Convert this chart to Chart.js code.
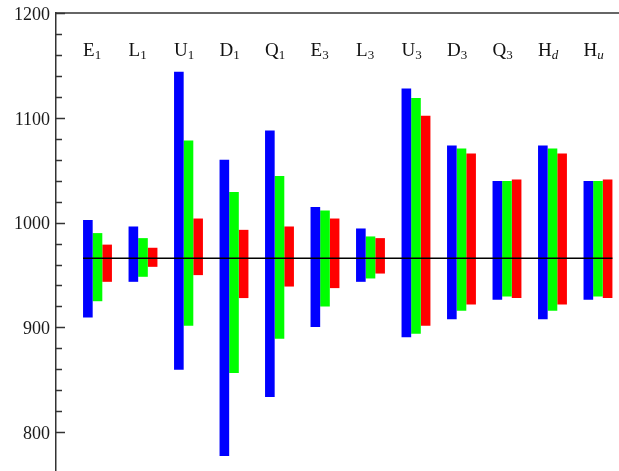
<!DOCTYPE html>
<html>
<head>
<meta charset="utf-8">
<script src="https://cdn.jsdelivr.net/npm/chart.js@4.4.1/dist/chart.umd.min.js"></script>
<style>
  html, body { margin:0; padding:0; background:#fff; }
  canvas { display:block; }
</style>
</head>
<body>
<canvas id="c" width="619" height="471"></canvas>
<script>
// data
const labelMain = ['E','L','U','D','Q','E','L','U','D','Q','H','H'];
const labelSub  = ['1','1','1','1','1','3','3','3','3','3','d','u'];
const positions = [1,2,3,4,5,6,7,8,9,10,11,12];

// [low, high] per category
const blueRange  = [[909.5,1002.4],[943.5,996.3],[859.5,1143.9],[777.2,1059.9],[833.5,1087.9],[900.3,1014.8],[943.5,994.4],[890.7,1128],[907.9,1073.6],[926.3,1039.6],[907.9,1073.6],[926.3,1039.6]];
const greenRange = [[925,990],[948.3,985.2],[901.5,1078.4],[856.4,1029.1],[889.1,1044.4],[920,1011.5],[946.7,986.8],[893.9,1118.8],[915.8,1070.7],[929.5,1039.6],[915.8,1070.7],[929.5,1039.6]];
const redRange   = [[943.5,979],[957.8,976],[949.9,1003.9],[928,993.1],[939,996.3],[937.5,1003.9],[951.4,985.2],[901.5,1101.9],[921.9,1065.9],[928,1041.1],[921.9,1065.9],[928,1041.1]];

const refValue = 966;
const yMajor = [800,900,1000,1100,1200];

function toPoints(arr){ return arr.map((r,i)=> ({x: positions[i], y: r})); }

const decor = {
  id:'decor',
  afterDraw(chart){
    const ctx = chart.ctx, a = chart.chartArea;
    const y = chart.scales.y;
    ctx.save();
    // top frame
    ctx.strokeStyle = '#333'; ctx.lineWidth = 1.5;
    ctx.beginPath(); ctx.moveTo(a.left, a.top); ctx.lineTo(a.right, a.top); ctx.stroke();
    // inside ticks
    y.ticks.forEach(t => {
      const py = Math.round(y.getPixelForValue(t.value)) + 0.5;
      const len = (t.value % 100 === 0) ? 9 : 6;
      ctx.beginPath(); ctx.moveTo(a.left, py); ctx.lineTo(a.left + len, py); ctx.stroke();
    });
    // reference line across groups
    const m0 = chart.getDatasetMeta(0).data, m2 = chart.getDatasetMeta(2).data;
    const x0 = m0[0].x - m0[0].width/2, x1 = m2[m2.length-1].x + m2[m2.length-1].width/2;
    const ry = y.getPixelForValue(refValue);
    ctx.strokeStyle = '#000'; ctx.lineWidth = 1.5;
    ctx.beginPath(); ctx.moveTo(x0, ry); ctx.lineTo(x1, ry); ctx.stroke();
    // category labels at top
    ctx.fillStyle = '#111';
    ctx.textBaseline = 'alphabetic';
    positions.forEach((p,i) => {
      const bar = m0[i];
      const lx = bar.x - bar.width/2;
      const by = a.top + 43;
      ctx.font = '19px "Liberation Serif", serif';
      ctx.fillText(labelMain[i], lx, by);
      const w = ctx.measureText(labelMain[i]).width;
      const italic = isNaN(Number(labelSub[i]));
      ctx.font = (italic ? 'italic ' : '') + '13px "Liberation Serif", serif';
      ctx.fillText(labelSub[i], lx + w, by + 3);
    });
    ctx.restore();
  }
};

new Chart(document.getElementById('c'), {
  type:'bar',
  data:{
    datasets:[
      {data: toPoints(blueRange),  backgroundColor:'#0000ff'},
      {data: toPoints(greenRange), backgroundColor:'#00ff00'},
      {data: toPoints(redRange),   backgroundColor:'#ff0000'}
    ]
  },
  options:{
    responsive:false, animation:false, devicePixelRatio:1,
    layout:{ padding:{ top:13, right:0, bottom:0, left:0 } },
    datasets:{ bar:{ categoryPercentage:0.635, barPercentage:1.0 } },
    plugins:{ legend:{display:false}, tooltip:{enabled:false} },
    scales:{
      x:{ type:'linear', display:false, offset:false, min:0.088, max:12.462 },
      y:{
        min:763, max:1200,
        afterFit(s){ s.width = 56; s.paddingTop = 0; s.paddingBottom = 0; },
        afterBuildTicks(s){ s.ticks = s.ticks.filter(t => t.value % 20 === 0); },
        grid:{ display:false, drawTicks:false },
        border:{ display:true, color:'#333', width:1.5 },
        ticks:{ stepSize:20, autoSkip:false, maxTicksLimit:100, padding:6, labelOffset:2, color:'#1a1a1a',
          font:{ family:'"Liberation Serif", serif', size:18 },
          callback: v => yMajor.includes(v) ? String(v) : '' }
      }
    }
  },
  plugins:[decor]
});
</script>
</body>
</html>
